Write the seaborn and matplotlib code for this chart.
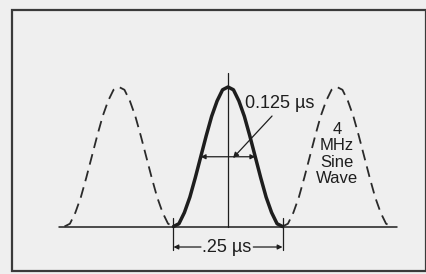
import pandas as pd
import matplotlib.pyplot as plt
import seaborn as sns
from matplotlib.patches import Rectangle

# Pulse shape: time offset from pulse centre (us) and relative height
offsets = [-0.125, -0.1125, -0.1, -0.0875, -0.075, -0.0625, -0.05, -0.0375, -0.025, -0.0125,
           0.0, 0.0125, 0.025, 0.0375, 0.05, 0.0625, 0.075, 0.0875, 0.1, 0.1125, 0.125]
heights = [0.00, 0.02, 0.10, 0.21, 0.35, 0.50, 0.65, 0.79, 0.90, 0.98,
           1.00, 0.98, 0.90, 0.79, 0.65, 0.50, 0.35, 0.21, 0.10, 0.02, 0.00]

# Centres of the sine-squared pulse and of the neighbouring sine wave cycles (us)
main_centre = 0.0
wave_centres = [-0.25, 0.25]

pulse_width = 0.25      # base width, us
half_width = 0.125      # width at half amplitude, us

rows = []
for c in wave_centres:
    for t, h in zip(offsets, heights):
        rows.append({"cycle": str(c), "t": c + t, "v": h})
wave = pd.DataFrame(rows)
pulse = pd.DataFrame({"t": [main_centre + t for t in offsets], "v": heights})

sns.set_style("white")
plt.rcParams["font.family"] = ["Liberation Sans", "DejaVu Sans"]

fig = plt.figure(figsize=(4.27, 2.74), dpi=100, facecolor="#efefef")
ax = fig.add_axes([0, 0, 1, 1])
ax.set_facecolor("#efefef")
ax.set_xlim(-0.5229, 0.4564)
ax.set_ylim(-0.3405, 1.6237)
ax.axis("off")

ink = "#1e1e1e"

# baseline and centre line
ax.plot([-0.388, 0.388], [0, 0], color=ink, lw=1.1)
ax.plot([0, 0], [0, 1.10], color=ink, lw=0.9)

# dashed neighbouring cycles of the 4 MHz sine wave
sns.lineplot(data=wave, x="t", y="v", units="cycle", estimator=None, ax=ax,
             color="#2a2a2a", lw=1.3, linestyle=(0, (6, 3.5)), sort=False)
# the sine-squared pulse
sns.lineplot(data=pulse, x="t", y="v", ax=ax, color=ink, lw=2.5, sort=False,
             solid_joinstyle="round", solid_capstyle="round")

# half-amplitude width marker
arrow = dict(arrowstyle="<|-|>", color=ink, lw=0.9, mutation_scale=7, shrinkA=0, shrinkB=0)
ax.annotate("", xy=(-half_width / 2, 0.5), xytext=(half_width / 2, 0.5), arrowprops=arrow)
ax.annotate("", xy=(0.0115, 0.491), xytext=(0.101, 0.792),
            arrowprops=dict(arrowstyle="-|>", color=ink, lw=0.9, mutation_scale=8,
                            shrinkA=0, shrinkB=0))
ax.text(0.039, 0.885, "0.125 µs", fontsize=13, color=ink, ha="left", va="center")

# base width marker
for x in (-pulse_width / 2, pulse_width / 2):
    ax.plot([x, x], [0.061, -0.168], color=ink, lw=0.9)
one_way = dict(arrowstyle="-|>", color=ink, lw=0.9, mutation_scale=7, shrinkA=0, shrinkB=0)
ax.annotate("", xy=(-pulse_width / 2, -0.147), xytext=(-0.062, -0.147), arrowprops=one_way)
ax.annotate("", xy=(pulse_width / 2, -0.147), xytext=(0.058, -0.147), arrowprops=one_way)
ax.text(-0.004, -0.147, ".25 µs", fontsize=13, color=ink, ha="center", va="center")

# label for the dashed cycles
ax.text(0.25, 0.52, "4\nMHz\nSine\nWave", fontsize=12, color=ink, ha="center",
        va="center", linespacing=1.12)

# frame around the figure
fig.patches.append(Rectangle((12 / 427, 3 / 274), 414 / 427, 261.5 / 274,
                             transform=fig.transFigure, fill=False, edgecolor="#3a3a3a", lw=1.6))

fig.savefig("out.png", dpi=100, facecolor=fig.get_facecolor())
